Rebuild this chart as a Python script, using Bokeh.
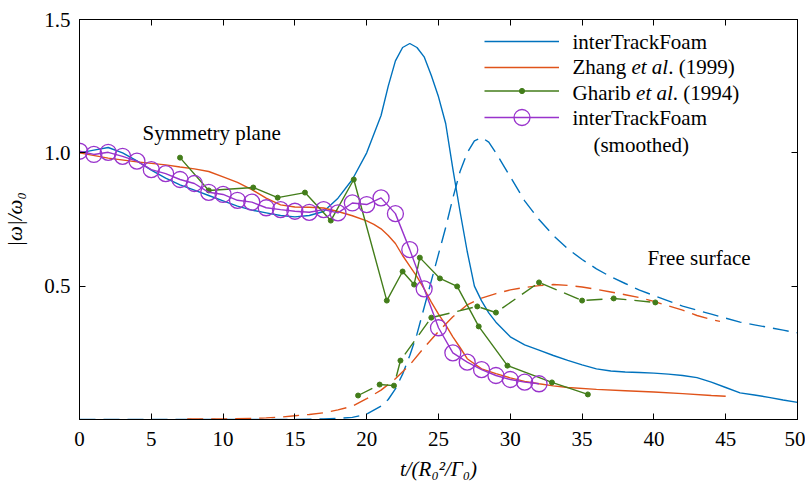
from bokeh.plotting import figure
from bokeh.models import FixedTicker, LinearAxis, Label, Legend, LegendItem
from bokeh.embed import file_html
from bokeh.resources import INLINE

# ---------------- data ----------------
# interTrackFoam, symmetry plane (solid blue)
itf_sym_t = [0, 1, 2, 3, 4, 5, 6, 7, 8, 9, 10, 11, 12, 13, 14, 15, 16, 17, 18, 19,
             20, 21, 21.5, 22, 22.5, 23, 23.5, 24, 24.5, 25, 25.5, 26, 26.5, 27, 27.5,
             28, 28.5, 29, 30, 31, 32, 33, 34, 35, 36, 37, 38, 39, 40, 41, 42, 43,
             44, 45, 46, 47, 48, 49, 50]
itf_sym_w = [1.0, 1.01, 1.02, 1.0, 0.97, 0.935, 0.905, 0.88, 0.86, 0.84, 0.82, 0.80,
             0.785, 0.775, 0.765, 0.76, 0.765, 0.78, 0.83, 0.90, 1.0, 1.14, 1.25,
             1.345, 1.395, 1.41, 1.395, 1.36, 1.29, 1.21, 1.11, 0.94, 0.78, 0.63, 0.50,
             0.445, 0.40, 0.365, 0.31, 0.28, 0.26, 0.24, 0.222, 0.205, 0.19, 0.182,
             0.178, 0.176, 0.174, 0.17, 0.165, 0.157, 0.14, 0.12, 0.10, 0.092, 0.083,
             0.073, 0.064]

# interTrackFoam, free surface (dashed blue)
itf_fs_t = [0, 5, 10, 15, 17, 18, 19, 20, 21, 21.5, 22, 22.5, 23, 23.5, 24, 24.5, 25,
            25.5, 26, 26.5, 27, 27.5, 28, 28.5, 29, 29.5, 30, 31, 32, 33, 34, 35, 36,
            37, 38, 39, 40, 41, 42, 43, 44, 45, 46, 47, 48, 49, 50]
itf_fs_w = [0.0, 0.0, 0.0, 0.0, 0.002, 0.004, 0.008, 0.02, 0.05, 0.075, 0.115, 0.17,
            0.24, 0.32, 0.42, 0.52, 0.62, 0.72, 0.83, 0.93, 1.0, 1.045, 1.058, 1.04,
            1.0, 0.955, 0.91, 0.82, 0.75, 0.69, 0.64, 0.60, 0.565, 0.535, 0.51, 0.485,
            0.465, 0.445, 0.425, 0.41, 0.395, 0.38, 0.365, 0.355, 0.345, 0.335, 0.325]

# Zhang et al. (1999), symmetry plane (solid red)
zh_sym_t = [0, 2, 4, 6, 7, 8, 9, 10, 11, 12, 13, 14, 15, 16, 17, 18, 19, 20, 20.5, 21,
            21.5, 22, 22.5, 23, 23.5, 24, 24.5, 25, 25.5, 26, 26.5, 27, 28, 29, 30, 31,
            32, 33, 34, 36, 38, 40, 42, 44, 45]
zh_sym_w = [1.0, 0.98, 0.966, 0.955, 0.947, 0.94, 0.93, 0.91, 0.889, 0.862, 0.83,
            0.805, 0.797, 0.796, 0.793, 0.78, 0.764, 0.745, 0.732, 0.715, 0.69, 0.66,
            0.615, 0.575, 0.536, 0.49, 0.44, 0.395, 0.355, 0.31, 0.27, 0.228, 0.19,
            0.172, 0.156, 0.143, 0.134, 0.126, 0.12, 0.113, 0.108, 0.103, 0.097,
            0.09, 0.087]

# Zhang et al. (1999), free surface (dashed red)
zh_fs_t = [7.5, 10, 12, 13, 14, 15, 16, 17, 18, 19, 20, 21, 22, 23, 24, 25, 26, 27, 28,
           29, 30, 31, 32, 33, 34, 35, 36, 37, 38, 39, 40, 41, 42, 43, 44, 44.6]
zh_fs_w = [0.002, 0.002, 0.004, 0.006, 0.009, 0.014, 0.019, 0.025, 0.036, 0.05, 0.078,
           0.11, 0.153, 0.205, 0.27, 0.33, 0.385, 0.43, 0.455, 0.472, 0.486, 0.495,
           0.502, 0.506, 0.503, 0.497, 0.488, 0.478, 0.468, 0.457, 0.443, 0.426,
           0.41, 0.39, 0.375, 0.368]

# Gharib et al. (1994), symmetry plane (solid green, dots)
gh_sym_t = [7.0, 9.0, 12.1, 13.8, 15.7, 17.5, 19.1, 21.4, 22.5, 23.3, 23.7, 25.1, 26.3,
            27.8, 29.8, 32.9, 35.4]
gh_sym_w = [0.982, 0.859, 0.87, 0.832, 0.851, 0.746, 0.90, 0.446, 0.555, 0.506, 0.607,
            0.529, 0.499, 0.349, 0.202, 0.139, 0.094]

# Gharib et al. (1994), free surface (dashed green, dots)
gh_fs_t = [19.4, 20.9, 21.9, 22.35, 24.5, 27.7, 29.0, 32.0, 35.0, 37.2, 40.1]
gh_fs_w = [0.09, 0.131, 0.127, 0.221, 0.382, 0.424, 0.401, 0.514, 0.446, 0.454, 0.439]

# interTrackFoam smoothed, symmetry plane (purple, open circles)
itf_sm_t = list(range(0, 33))
itf_sm_w = [1.006, 0.994, 1.002, 0.987, 0.969, 0.937, 0.922, 0.90, 0.885, 0.852, 0.844,
            0.822, 0.815, 0.794, 0.787, 0.781, 0.777, 0.787, 0.775, 0.812, 0.806, 0.831,
            0.772, 0.637, 0.49, 0.344, 0.25, 0.215, 0.187, 0.165, 0.15, 0.14, 0.134]

x_ticks = [0, 5, 10, 15, 20, 25, 30, 35, 40, 45, 50]
y_ticks = [0.5, 1.0, 1.5]
y_tick_labels = {0.5: "0.5", 1.0: "1.0", 1.5: "1.5"}

BLUE = "#0072BD"
RED = "#E0531A"
GREEN = "#437D1A"
PURPLE = "#9933CC"
FONT = "Liberation Serif"
FS = "21px"

p = figure(x_range=(0, 50), y_range=(0, 1.5), frame_width=718, frame_height=400,
           min_border_left=78, min_border_right=8, min_border_top=19,
           min_border_bottom=62, output_backend="svg", toolbar_location=None,
           background_fill_color="white", border_fill_color="white")
p.grid.visible = False
p.outline_line_color = "black"
p.outline_line_width = 1

def style_axis(ax, ticks, overrides):
    ax.ticker = FixedTicker(ticks=ticks)
    ax.major_label_overrides = overrides
    ax.major_tick_in = 6
    ax.major_tick_out = 0
    ax.minor_tick_line_color = None
    ax.axis_line_color = "black"
    ax.major_tick_line_color = "black"
    ax.major_label_text_font = FONT
    ax.major_label_text_font_size = FS
    ax.major_label_text_color = "black"
    ax.axis_label_text_font = FONT
    ax.axis_label_text_font_size = FS
    ax.axis_label_text_color = "black"

xa = p.xaxis[0]
style_axis(xa, x_ticks, {})
xa.major_label_standoff = 12
xa.axis_label = "t/(R\u2080\u00b2/\u0393\u2080)"
xa.axis_label_text_font_style = "italic"
xa.axis_label_standoff = 8

ya = p.yaxis[0]
style_axis(ya, y_ticks, y_tick_labels)
ya.major_label_standoff = 9
ya.axis_label = "|\u03c9|/\u03c9\u2080"
ya.axis_label_text_font_style = "italic"
ya.axis_label_standoff = 14

top = LinearAxis()
style_axis(top, x_ticks, {t: "" for t in x_ticks})
top.major_label_standoff = 0
p.add_layout(top, "above")
right = LinearAxis()
style_axis(right, y_ticks, {t: "" for t in y_ticks})
right.major_label_standoff = 0
p.add_layout(right, "right")

LW = 1.4
r_itf = p.line(itf_sym_t, itf_sym_w, line_color=BLUE, line_width=LW)
p.line(itf_fs_t, itf_fs_w, line_color=BLUE, line_width=LW, line_dash="16 8")
r_zh = p.line(zh_sym_t, zh_sym_w, line_color=RED, line_width=LW)
p.line(zh_fs_t, zh_fs_w, line_color=RED, line_width=LW, line_dash="16 8")
r_gh_l = p.line(gh_sym_t, gh_sym_w, line_color=GREEN, line_width=LW)
r_gh_s = p.scatter(gh_sym_t, gh_sym_w, size=5, marker="circle", fill_color=GREEN,
                   line_color=GREEN)
p.line(gh_fs_t, gh_fs_w, line_color=GREEN, line_width=LW, line_dash="16 8")
p.scatter(gh_fs_t, gh_fs_w, size=5, marker="circle", fill_color=GREEN, line_color=GREEN)
r_sm_l = p.line(itf_sm_t, itf_sm_w, line_color=PURPLE, line_width=LW)
r_sm_s = p.scatter(itf_sm_t, itf_sm_w, size=16, marker="circle", fill_color=None,
                   line_color=PURPLE, line_width=1.3)

# one legend per row so that marker sizes can differ (legend marker = 0.4 * glyph height)
def add_legend(renderers, center_from_bottom, gh):
    lg = Legend(items=[LegendItem(label=" ", renderers=renderers)],
                location=(405, int(round(center_from_bottom - gh / 2))),
                glyph_width=75, glyph_height=gh, label_height=gh, spacing=0,
                padding=0, margin=0, border_line_color=None, background_fill_alpha=0,
                label_text_font_size="1px", label_standoff=0)
    p.add_layout(lg, "center")

add_legend([r_itf], 378, 26)
add_legend([r_zh], 352, 26)
add_legend([r_gh_l, r_gh_s], 328, 13)
add_legend([r_sm_l, r_sm_s], 302, 40)

def lab(x, y, text, style="normal", align="left", xoff=0, yoff=0, baseline="middle"):
    p.add_layout(Label(x=x, y=y, text=text, text_font=FONT, text_font_size=FS,
                       text_font_style=style, text_align=align,
                       text_baseline=baseline, x_offset=xoff, y_offset=yoff,
                       text_color="black"))

# legend texts
LX = 34.33
lab(LX, 1.417, "interTrackFoam")
lab(LX, 1.322, "Zhang")
lab(LX, 1.322, "et al", style="italic", xoff=58.9)
lab(LX, 1.322, ". (1999)", xoff=95.7)
lab(LX, 1.226, "Gharib")
lab(LX, 1.226, "et al", style="italic", xoff=63.6)
lab(LX, 1.226, ". (1994)", xoff=100.3)
lab(LX, 1.132, "interTrackFoam")
lab(35.79, 1.031, "(smoothed)")

# annotations
lab(4.39, 1.076, "Symmetry plane")
lab(39.55, 0.607, "Free surface")

open("out.html", "w").write(file_html(p, INLINE))
